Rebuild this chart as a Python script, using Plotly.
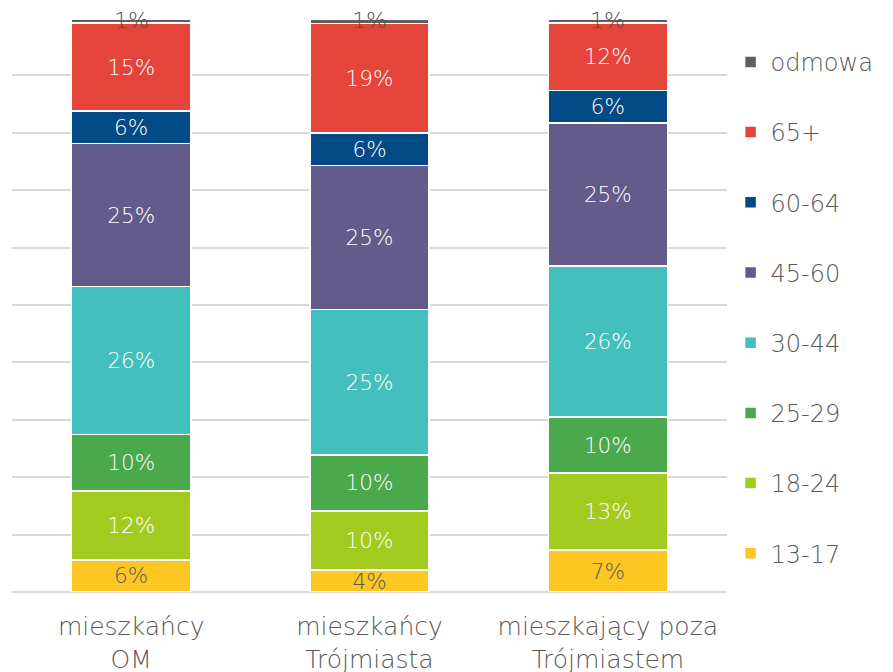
import plotly.graph_objects as go

categories = ["mieszkańcy<br>OM", "mieszkańcy<br>Trójmiasta", "mieszkający poza<br>Trójmiastem"]

# shares (fraction of respondents), bottom to top of each stacked bar
s_13_17 = [0.056, 0.038, 0.073]
s_18_24 = [0.120, 0.103, 0.134]
s_25_29 = [0.098, 0.098, 0.098]
s_30_44 = [0.258, 0.253, 0.263]
s_45_60 = [0.249, 0.251, 0.249]
s_60_64 = [0.057, 0.057, 0.057]
s_65p = [0.153, 0.190, 0.117]
s_odmowa = [0.007, 0.007, 0.007]

series = [
    ("13-17", s_13_17, "#FEC623", "#595959"),
    ("18-24", s_18_24, "#A2CB1F", "white"),
    ("25-29", s_25_29, "#4AA84D", "white"),
    ("30-44", s_30_44, "#43BFBD", "white"),
    ("45-60", s_45_60, "#635C8B", "white"),
    ("60-64", s_60_64, "#024A86", "white"),
    ("65+", s_65p, "#E5443B", "white"),
    ("odmowa", s_odmowa, "#5F5F5F", "#595959"),
]

FONT = "DejaVu Sans"
WEIGHT = 200

fig = go.Figure()
n = len(series)
for k, (name, vals, color, tcol) in enumerate(series):
    is_small = name == "odmowa"
    fig.add_trace(go.Bar(
        x=categories, y=vals, name=name,
        legendgroup=name,
        legendrank=n - k,
        marker=dict(color=color, line=dict(color="white", width=1.5)),
        text=None if is_small else [f"{round(v*100)}%" for v in vals],
        textposition="inside",
        insidetextanchor="middle",
        constraintext="none",
        textfont=dict(color=tcol, size=21.5, family=FONT, weight=WEIGHT),
        hoverinfo="skip",
    ))

# label for the thin top segment, centred on the top of each stack
totals = [sum(s[1][i] for s in series) for i in range(len(categories))]
for i, cat in enumerate(categories):
    fig.add_annotation(
        x=cat, y=totals[i], text=f"{round(s_odmowa[i]*100)}%",
        showarrow=False, yanchor="middle", xanchor="center", yshift=-1,
        font=dict(color="#555555", size=22, family=FONT, weight=WEIGHT),
    )

fig.update_layout(
    barmode="stack",
    bargap=0.5,
    width=885, height=664,
    margin=dict(l=4, r=166, t=10, b=80),
    plot_bgcolor="white", paper_bgcolor="white",
    font=dict(family=FONT, color="#595959", size=22, weight=WEIGHT),
    showlegend=True,
    legend=dict(
        x=1.005, xanchor="left", y=0.962, yanchor="top",
        traceorder="grouped",
        tracegroupgap=36,
        font=dict(size=24, color="#595959", family=FONT, weight=WEIGHT),
        itemwidth=30,
    ),
    yaxis=dict(range=[0, 1], dtick=0.1, showticklabels=False,
               showgrid=True, gridcolor="#D9D9D9", gridwidth=1.5,
               zeroline=True, zerolinecolor="#D9D9D9", zerolinewidth=1.5,
               fixedrange=True),
    xaxis=dict(showgrid=False,
               tickfont=dict(size=25, color="#595959", family=FONT, weight=WEIGHT),
               showline=False, ticks="", ticklen=0, ticklabelstandoff=17,
               automargin=False, fixedrange=True),
)

fig.write_html("out.html")
